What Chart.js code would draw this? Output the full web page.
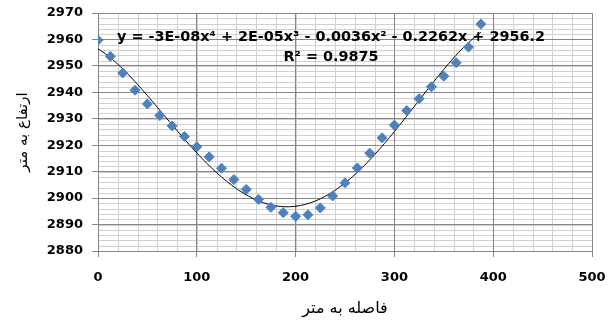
<!DOCTYPE html>
<html>
<head>
<meta charset="utf-8">
<script src="https://cdn.jsdelivr.net/npm/chart.js@4.4.1/dist/chart.umd.min.js"></script>
<style>
  body { margin: 0; background: #fff; }
  #wrap { width: 613px; height: 325px; }
</style>
</head>
<body>
<div id="wrap"><canvas id="scatterChart"></canvas></div>
<script>
  // distance (m) and elevation (m)
  const distances = [0, 12.5, 25, 37.5, 50, 62.5, 75, 87.5, 100, 112.5, 125, 137.5, 150, 162.5, 175, 187.5,
    200, 212.5, 225, 237.5, 250, 262.5, 275, 287.5, 300, 312.5, 325, 337.5, 350, 362.5, 375, 387.5];
  const elevations = [2959.7, 2953.6, 2947.3, 2940.8, 2935.6, 2931.2, 2927.3, 2923.3, 2919.4, 2915.6, 2911.3, 2907,
    2903.3, 2899.5, 2896.5, 2894.5, 2893.1, 2893.7, 2896.3, 2900.8, 2905.8, 2911.4, 2917, 2922.8,
    2927.6, 2933.1, 2937.6, 2942.1, 2946.1, 2951.2, 2957.1, 2965.8];
  const xTicks = [0, 100, 200, 300, 400, 500];
  const yTicks = [2880, 2890, 2900, 2910, 2920, 2930, 2940, 2950, 2960, 2970];
  const equationText = 'y = -3E-08x⁴ + 2E-05x³ - 0.0036x² - 0.2262x + 2956.2';
  const r2Text = 'R² = 0.9875';

  // 4th order least squares trendline (like Excel), x scaled by 100
  function polyFit(xs, ys, deg) {
    const n = deg + 1;
    const A = [];
    for (let i = 0; i < n; i++) {
      A.push(new Array(n + 1).fill(0));
    }
    xs.forEach((xv, k) => {
      const t = xv / 100;
      for (let i = 0; i < n; i++) {
        for (let j = 0; j < n; j++) A[i][j] += Math.pow(t, i + j);
        A[i][n] += ys[k] * Math.pow(t, i);
      }
    });
    for (let c = 0; c < n; c++) {
      let p = c;
      for (let r = c + 1; r < n; r++) if (Math.abs(A[r][c]) > Math.abs(A[p][c])) p = r;
      [A[c], A[p]] = [A[p], A[c]];
      for (let r = 0; r < n; r++) {
        if (r === c) continue;
        const f = A[r][c] / A[c][c];
        for (let k = c; k <= n; k++) A[r][k] -= f * A[c][k];
      }
    }
    return A.map((row, i) => row[n] / row[i]);
  }
  const coef = polyFit(distances, elevations, 4);
  const trend = [];
  const lastX = distances[distances.length - 1];
  for (let xv = 0; xv <= lastX + 0.01; xv += 2.5) {
    const t = xv / 100;
    trend.push({ x: xv, y: coef.reduce((s, c, i) => s + c * Math.pow(t, i), 0) });
  }

  const points = distances.map((d, i) => ({ x: d, y: elevations[i] }));

  const extras = {
    id: 'extras',
    beforeDraw(chart) {
      const { ctx, chartArea: a, scales: { x, y } } = chart;
      ctx.save();
      ctx.fillStyle = '#fff';
      ctx.fillRect(0, 0, chart.width, chart.height);
      ctx.strokeStyle = '#d0d0d0';
      ctx.lineWidth = 1;
      ctx.beginPath();
      for (let v = 0; v <= 500; v += 20) {
        const px = Math.round(x.getPixelForValue(v)) + 0.5;
        ctx.moveTo(px, a.top); ctx.lineTo(px, a.bottom);
      }
      for (let v = 2880; v <= 2970; v += 2) {
        const py = Math.round(y.getPixelForValue(v)) + 0.5;
        ctx.moveTo(a.left, py); ctx.lineTo(a.right, py);
      }
      ctx.stroke();
      ctx.restore();
    },
    afterDraw(chart) {
      const { ctx } = chart;
      ctx.save();
      ctx.fillStyle = '#000';
      ctx.font = 'bold 14.4px "DejaVu Sans"';
      ctx.textAlign = 'center';
      ctx.textBaseline = 'middle';
      const cx = 331;
      ctx.fillText(equationText, cx, 37);
      ctx.fillText(r2Text, cx, 57);
      ctx.restore();
    }
  };

  const tickFont = { family: 'DejaVu Sans', size: 13, weight: 'bold' };

  const ctx = document.getElementById('scatterChart');
  new Chart(ctx, {
    type: 'scatter',
    data: {
      datasets: [{
        label: 'ارتفاع',
        data: points,
        pointStyle: 'rectRot',
        pointRadius: 5,
        backgroundColor: '#4F81BD',
        borderColor: '#4F81BD',
        borderWidth: 1,
        order: 1
      }, {
        label: 'trend',
        type: 'line',
        data: trend,
        borderColor: '#000',
        borderWidth: 1,
        pointRadius: 0,
        tension: 0,
        order: 2
      }]
    },
    options: {
      responsive: true,
      maintainAspectRatio: false,
      animation: false,
      layout: { padding: { top: 13, right: 21, left: 0, bottom: 0 } },
      plugins: { legend: { display: false }, tooltip: { enabled: false } },
      scales: {
        x: {
          type: 'linear',
          min: 0, max: 500,
          afterBuildTicks: s => { s.ticks = xTicks.map(v => ({ value: v })); },
          afterFit: s => { s.height = 74; s.paddingLeft = 0; s.paddingRight = 0; },
          ticks: { color: '#000', font: tickFont, padding: 13, maxRotation: 0, callback: v => String(v) },
          grid: { color: '#868686', tickLength: 6, tickColor: '#868686' },
          border: { color: '#868686' },
          title: { display: true, text: 'فاصله به متر', color: '#000', font: { family: 'DejaVu Sans', size: 16 }, padding: { top: 0, bottom: 7 } }
        },
        y: {
          min: 2880, max: 2970,
          afterBuildTicks: s => { s.ticks = yTicks.map(v => ({ value: v })); },
          afterFit: s => { s.width = 98; s.paddingTop = 0; s.paddingBottom = 0; },
          ticks: { color: '#000', font: tickFont, padding: 9, callback: v => String(v) },
          grid: { color: '#868686', tickLength: 6, tickColor: '#868686' },
          border: { color: '#868686' },
          title: { display: true, text: 'ارتفاع به متر', color: '#000', font: { family: 'DejaVu Sans', size: 15 }, padding: { top: 14, bottom: 0 } }
        }
      }
    },
    plugins: [extras]
  });
</script>
</body>
</html>
